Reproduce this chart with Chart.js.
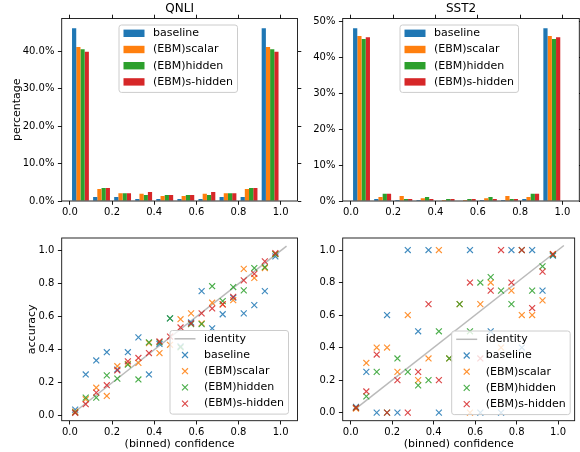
<!DOCTYPE html>
<html><head><meta charset="utf-8">
<script src="https://cdn.jsdelivr.net/npm/chart.js@4.4.1/dist/chart.umd.min.js"></script>
<style>
html,body{margin:0;padding:0;background:#fff;}
#wrap{position:relative;width:580px;height:452px;overflow:hidden;background:#fff;}
canvas{position:absolute;left:0;top:0;width:580px;height:452px;}
</style></head><body>
<div id="wrap">
<canvas id="c1" width="580" height="452"></canvas>
<canvas id="c2" width="580" height="452"></canvas>
<canvas id="c3" width="580" height="452"></canvas>
<canvas id="c4" width="580" height="452"></canvas>
</div>
<script>
// ---------- data ----------
const seriesNames = ['baseline', '(EBM)scalar', '(EBM)hidden', '(EBM)s-hidden'];
const histBins = [0.05, 0.15, 0.25, 0.35, 0.45, 0.55, 0.65, 0.75, 0.85, 0.95];
const calBins = [0.025, 0.075, 0.125, 0.175, 0.225, 0.275, 0.325, 0.375, 0.425, 0.475,
                 0.525, 0.575, 0.625, 0.675, 0.725, 0.775, 0.825, 0.875, 0.925, 0.975];
const xTickValues = [0, 0.2, 0.4, 0.6, 0.8, 1.0];
const qnliPctTicks = [0, 10, 20, 30, 40];
const sst2PctTicks = [0, 10, 20, 30, 40, 50];
const accTickValues = [0, 0.2, 0.4, 0.6, 0.8, 1.0];
const identityX = [0.015, 1.028];

const qnliHistBaseline = [46.1, 1.07, 1.07, 0.53, 0.53, 0.53, 0.53, 1.07, 1.07, 46.1];
const qnliHistScalar   = [41.1, 3.2, 2.1, 1.95, 1.33, 1.33, 1.95, 2.1, 3.2, 41.1];
const qnliHistHidden   = [40.5, 3.5, 2.1, 1.6, 1.6, 1.6, 1.6, 2.1, 3.5, 40.5];
const qnliHistSHidden  = [39.8, 3.5, 2.1, 2.4, 1.6, 1.6, 2.4, 2.1, 3.5, 39.8];

const sst2HistBaseline = [48.1, 0.55, 0.28, 0.28, 0, 0, 0.28, 0.28, 0.55, 48.1];
const sst2HistScalar   = [45.9, 1.1, 1.4, 0.8, 0.28, 0.28, 0.8, 1.4, 1.1, 45.9];
const sst2HistHidden   = [45.1, 2.0, 0.55, 1.1, 0.55, 0.55, 1.1, 0.55, 2.0, 45.1];
const sst2HistSHidden  = [45.6, 2.0, 0.55, 0.55, 0.55, 0.55, 0.55, 0.55, 2.0, 45.6];

const qnliCalBaseline = [0.037, 0.25, 0.335, 0.385, 0.28, 0.385, 0.475, 0.25, 0.435, 0.59, 0.42, 0.565, 0.755, 0.53, 0.615, 0.715, 0.62, 0.67, 0.755, 0.965];
const qnliCalScalar   = [0.025, 0.10, 0.17, 0.12, 0.30, 0.315, 0.32, 0.44, 0.38, 0.43, 0.585, 0.62, 0.56, 0.685, 0.675, 0.70, 0.89, 0.835, 0.895, 0.98];
const qnliCalHidden   = [0.02, 0.11, 0.11, 0.245, 0.225, 0.31, 0.22, 0.445, 0.445, 0.59, 0.415, 0.555, 0.555, 0.785, 0.695, 0.78, 0.76, 0.895, 0.90, 0.98];
const qnliCalSHidden  = [0.018, 0.07, 0.14, 0.185, 0.275, 0.33, 0.35, 0.38, 0.45, 0.48, 0.535, 0.56, 0.62, 0.65, 0.675, 0.72, 0.82, 0.86, 0.935, 0.985];

const sst2CalBaseline = [0.035, 0.25, 0, 0.6, 0, 1.0, 0.5, 1.0, 0, null, null, 1.0, 0, 0.5, 0, 1.0, 0.4, 1.0, 0.75, 0.965];
const sst2CalScalar   = [0.025, 0.305, 0.4, 0.4, 0.25, 0.6, 0.2, 0.333, 1.0, 0.333, 0.667, 0, 0.667, 0.8, 0.4, 0.75, 0.6, 0.6, 0.69, 0.975];
const sst2CalHidden   = [0.03, 0.1, 0.25, 0, 0.333, 0.25, 0.167, 0.2, 0.5, 0.333, 0.667, 0.5, 0.8, 0.833, 0.75, 0.667, 1.0, 0.75, 0.9, 0.97];
const sst2CalSHidden  = [0.03, 0.13, 0.357, 0, 0.2, 0, 0.25, 0.667, 0.2, null, null, 0.8, 0.333, 0.75, 1.0, 0.8, 1.0, 0.643, 0.867, 0.975];

// ---------- style ----------
const FONT = 'DejaVu Sans';
Chart.defaults.font.family = FONT;
Chart.defaults.color = '#000';
const seriesColors = ['#1f77b4', '#ff7f0e', '#2ca02c', '#d62728'];
const markerColors = ['rgba(31,119,180,0.85)', 'rgba(255,127,14,0.85)', 'rgba(44,160,44,0.85)', 'rgba(214,39,40,0.85)'];
const identityColor = 'rgba(140,140,140,0.6)';
const XMIN = -0.039, XMAX = 1.08;
const MARK_R = 4.2, MARK_W = 1.15;

function roundRectPath(ctx, x, y, w, h, r) {
  ctx.beginPath();
  ctx.moveTo(x + r, y);
  ctx.lineTo(x + w - r, y); ctx.arcTo(x + w, y, x + w, y + r, r);
  ctx.lineTo(x + w, y + h - r); ctx.arcTo(x + w, y + h, x + w - r, y + h, r);
  ctx.lineTo(x + r, y + h); ctx.arcTo(x, y + h, x, y + h - r, r);
  ctx.lineTo(x, y + r); ctx.arcTo(x, y, x + r, y, r);
  ctx.closePath();
}

const frameLegend = {
  id: 'frameLegend',
  afterDraw(chart, args, o) {
    const ctx = chart.ctx, a = chart.chartArea;
    ctx.save();
    ctx.strokeStyle = '#111';
    ctx.lineWidth = 0.9;
    ctx.strokeRect(a.left, a.top, a.right - a.left, a.bottom - a.top);
    if (o && o.x !== undefined) {
      const items = chart.data.datasets;
      ctx.font = '11px "' + FONT + '"';
      const tw = Math.max(...items.map(d => ctx.measureText(d.label).width));
      const hx = o.x + 4.5, hw = 21, tx = hx + hw + 8.5;
      const w = tx - o.x + tw + 4.5;
      const row = 16.2;
      const h = 8.3 + row * (items.length - 1) + 10.5;
      roundRectPath(ctx, o.x, o.y, w, h, 2.5);
      ctx.fillStyle = 'rgba(255,255,255,0.8)';
      ctx.fill();
      ctx.strokeStyle = '#cccccc';
      ctx.lineWidth = 1;
      ctx.stroke();
      items.forEach((d, i) => {
        const cy = o.y + 8.3 + row * i;
        if (d.kind === 'bar') {
          ctx.fillStyle = d.backgroundColor;
          ctx.fillRect(hx, cy - 3.7, hw, 7.4);
        } else if (d.kind === 'line') {
          ctx.strokeStyle = d.borderColor;
          ctx.lineWidth = d.borderWidth;
          ctx.beginPath(); ctx.moveTo(hx, cy); ctx.lineTo(hx + hw, cy); ctx.stroke();
        } else {
          const cx = hx + hw / 2, q = MARK_R * Math.SQRT1_2;
          ctx.strokeStyle = d.borderColor;
          ctx.lineWidth = MARK_W;
          ctx.beginPath();
          ctx.moveTo(cx - q, cy - q); ctx.lineTo(cx + q, cy + q);
          ctx.moveTo(cx - q, cy + q); ctx.lineTo(cx + q, cy - q);
          ctx.stroke();
        }
        ctx.fillStyle = '#000';
        ctx.textBaseline = 'middle';
        ctx.textAlign = 'left';
        ctx.fillText(d.label, tx, cy);
      });
    }
    ctx.restore();
  }
};

function axis(pos, min, max, tickVals, showLabels, fmt, fitSize, title, pad) {
  const horiz = pos === 'top' || pos === 'bottom';
  return {
    type: 'linear', position: pos, min: min, max: max, offset: false,
    afterBuildTicks: s => { s.ticks = tickVals.map(v => ({value: v})); },
    afterFit: s => { if (horiz) s.height = fitSize; else s.width = fitSize; },
    grid: {display: true, drawOnChartArea: false, drawTicks: true, tickLength: 3.8,
           tickWidth: 0.9, tickColor: '#000', color: '#000', offset: false},
    border: {display: false},
    ticks: {display: showLabels, font: {size: 10}, color: '#000', padding: pad,
            maxRotation: 0, minRotation: 0, autoSkip: false, callback: fmt},
    title: title || {display: false}
  };
}

const fmt1 = v => Number(v).toFixed(1);

function makeTop(id, titleText, arrs, pctTicks, ymax, pctFmt, area, yTitle, legendPos) {
  const yW = yTitle ? area.l : 40;
  const y2W = area.r < 570 ? 10 : 580 - area.r;
  const xH = 24;
  const datasets = arrs.map((a, i) => ({
    label: seriesNames[i], kind: 'bar',
    data: histBins.map((x, j) => ({x: x, y: a[j]})),
    backgroundColor: seriesColors[i], borderWidth: 0,
    categoryPercentage: 0.8, barPercentage: 1.0
  }));
  return new Chart(document.getElementById(id), {
    type: 'bar',
    data: {datasets: datasets},
    options: {
      responsive: false, animation: false, events: [],
      layout: {padding: {left: area.l - yW, right: 580 - area.r - y2W, top: 0, bottom: 452 - area.b - xH}},
      plugins: {legend: {display: false}, tooltip: {enabled: false}, frameLegend: legendPos},
      scales: {
        x: axis('bottom', XMIN, XMAX, xTickValues, true, fmt1, xH, null, 1.5),
        x2: axis('top', XMIN, XMAX, xTickValues, false, fmt1, area.t,
                 {display: true, text: titleText, font: {size: 12}, color: '#000', padding: {top: 1.6, bottom: 0}}, 0),
        y: axis('left', 0, ymax, pctTicks, true, pctFmt, yW,
                yTitle ? {display: true, text: yTitle, font: {size: 11}, color: '#000', padding: {top: 10.9, bottom: 0}} : null, 3.5),
        y2: axis('right', 0, ymax, pctTicks, false, pctFmt, y2W, null, 0)
      }
    },
    plugins: [frameLegend]
  });
}

function makeBottom(id, arrs, ymin, ymax, area, yTitle, legendPos) {
  const yW = yTitle ? area.l : 40;
  const xH = 452 - area.b;
  const datasets = [{
    label: 'identity', kind: 'line', type: 'line',
    data: identityX.map(v => ({x: v, y: v})),
    borderColor: identityColor, borderWidth: 1.5, pointRadius: 0, showLine: true, fill: false, order: 5
  }];
  arrs.forEach((a, i) => datasets.push({
    label: seriesNames[i], kind: 'x',
    data: calBins.map((x, j) => ({x: x, y: a[j]})).filter(p => p.y !== null),
    pointStyle: 'crossRot', pointRadius: MARK_R, pointBorderWidth: MARK_W,
    borderColor: markerColors[i], backgroundColor: markerColors[i], order: 4 - i
  }));
  return new Chart(document.getElementById(id), {
    type: 'scatter',
    data: {datasets: datasets},
    options: {
      responsive: false, animation: false, events: [],
      layout: {padding: {left: area.l - yW, right: 580 - area.r, top: area.t, bottom: 0}},
      plugins: {legend: {display: false}, tooltip: {enabled: false}, frameLegend: legendPos},
      scales: {
        x: axis('bottom', XMIN, XMAX, xTickValues, true, fmt1, xH,
                {display: true, text: '(binned) confidence', font: {size: 11}, color: '#000', padding: {top: 0, bottom: 1.2}}, 1.5),
        y: axis('left', ymin, ymax, accTickValues, true, fmt1, yW,
                yTitle ? {display: true, text: yTitle, font: {size: 11}, color: '#000', padding: {top: 25.1, bottom: 0}} : null, 3.5)
      }
    },
    plugins: [frameLegend]
  });
}

makeTop('c1', 'QNLI', [qnliHistBaseline, qnliHistScalar, qnliHistHidden, qnliHistSHidden],
        qnliPctTicks, 48.7, v => Number(v).toFixed(1) + '%',
        {l: 61.7, r: 297.5, t: 18.5, b: 201}, 'percentage', {x: 119, y: 25});
makeTop('c2', 'SST2', [sst2HistBaseline, sst2HistScalar, sst2HistHidden, sst2HistSHidden],
        sst2PctTicks, 50.8, v => Number(v).toFixed(0) + '%',
        {l: 342.7, r: 579.3, t: 18.5, b: 201}, null, {x: 400, y: 25});
makeBottom('c3', [qnliCalBaseline, qnliCalScalar, qnliCalHidden, qnliCalSHidden],
           -0.03, 1.077, {l: 61.7, r: 297.5, t: 238, b: 420.7}, 'accuracy', {x: 170, y: 330.5});
makeBottom('c4', [sst2CalBaseline, sst2CalScalar, sst2CalHidden, sst2CalSHidden],
           -0.05, 1.074, {l: 342.7, r: 579.3, t: 238, b: 420.7}, null, {x: 451.7, y: 331});
</script>
</body></html>
